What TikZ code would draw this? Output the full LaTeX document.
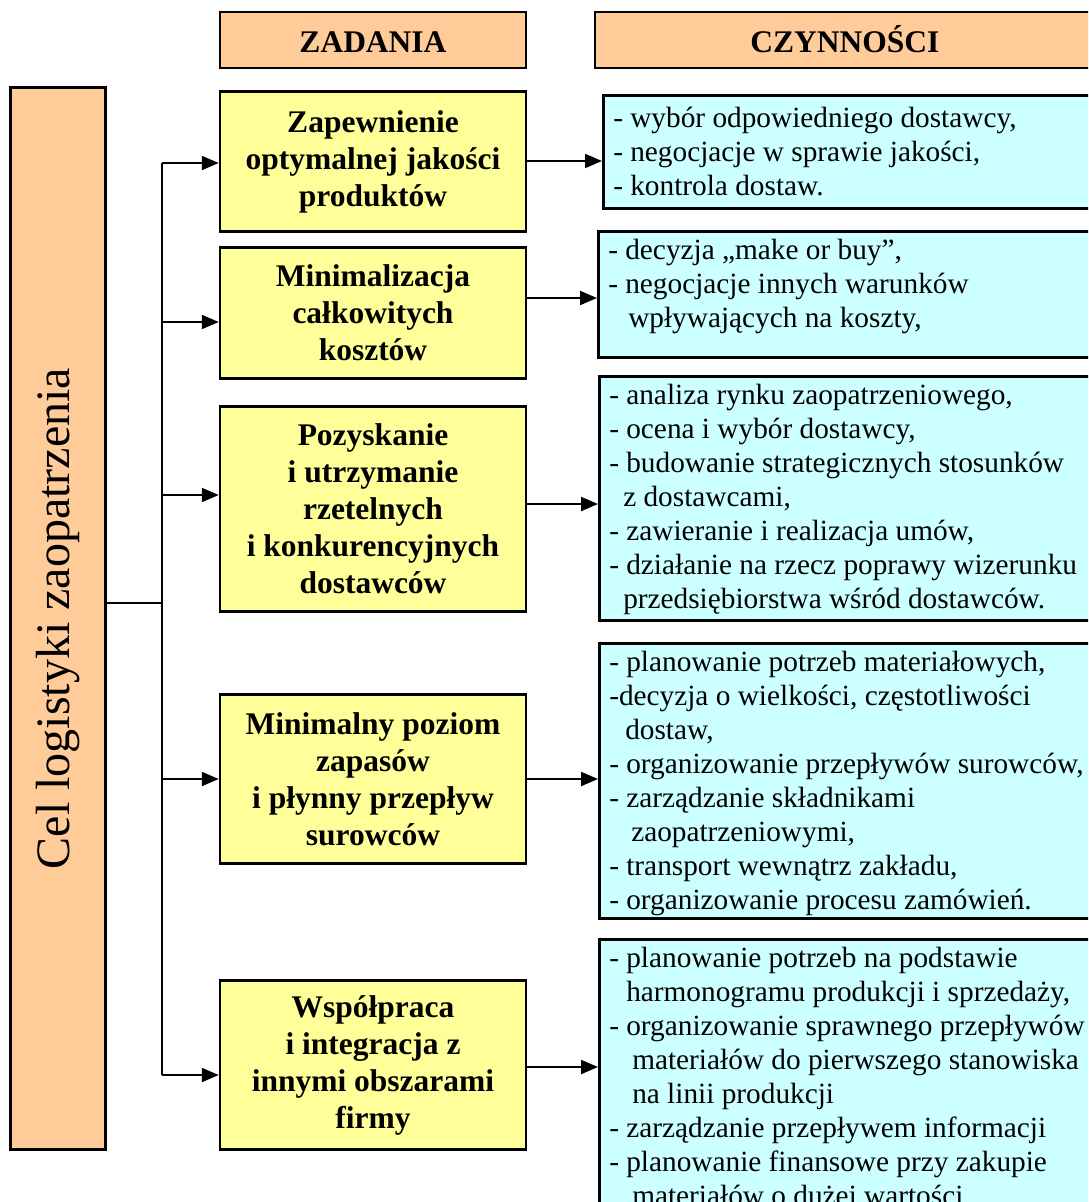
\documentclass[tikz,border=0pt]{standalone}
\usepackage{fontspec}
\setmainfont{Liberation Serif}
\usepackage{tikz}
\usetikzlibrary{arrows.meta}

\definecolor{orangebox}{HTML}{FFCC99}
\definecolor{yellowbox}{HTML}{FFFF99}
\definecolor{cyanbox}{HTML}{CCFFFF}

\newcommand{\actlines}[2]{\parbox[c][#1][t]{480pt}{\raggedright #2}}

\tikzset{
    head/.style={draw, line width=2.5pt, fill=orangebox, minimum height=56pt,
        text height=29pt, text depth=5pt,
        font=\fontsize{31.5}{34}\selectfont\bfseries},
    goal/.style={draw, line width=2.5pt, fill=orangebox, inner sep=0pt,
        font=\fontsize{48}{52}\selectfont},
    task/.style={draw, line width=2.5pt, fill=yellowbox, minimum width=306pt,
        align=center, font=\fontsize{31.5}{37}\selectfont\bfseries},
    act/.style={draw, line width=2.5pt, fill=cyanbox, anchor=north west,
        inner xsep=10pt, inner ysep=8pt, font=\fontsize{29.3}{34}\selectfont},
    link/.style={line width=2pt},
    arr/.style={line width=2pt, -{Triangle[length=17pt, width=14pt]}},
}

\begin{document}
\begin{tikzpicture}[x=1pt, y=-1pt]
    \useasboundingbox (0,0) rectangle (1088,1202);
    \clip (0,0) rectangle (1088,1202);

    % Draw the two column headers
    \node[head, minimum width=306pt] (zad) at (373,40) {ZADANIA};
    \node[head, minimum width=500pt] (czy) at (845,40) {CZYNNOŚCI};

    % Draw the goal on the left
    \node[goal, minimum width=95pt, minimum height=1062pt] (cel) at (58,618.5)
        {\rotatebox{90}{Cel logistyki zaopatrzenia}};

    % Draw the tasks
    \node[task, minimum height=140pt] (z1) at (373,161.5)
        {Zapewnienie\\optymalnej jakości\\produktów};
    \node[task, minimum height=131pt] (z2) at (373,313)
        {Minimalizacja\\całkowitych\\kosztów};
    \node[task, minimum height=205pt] (z3) at (373,509)
        {Pozyskanie\\i utrzymanie\\rzetelnych\\i konkurencyjnych\\dostawców};
    \node[task, minimum height=169pt] (z4) at (373,779)
        {Minimalny poziom\\zapasów\\i płynny przepływ\\surowców};
    \node[task, minimum height=169pt] (z5) at (373,1065)
        {Współpraca\\i integracja z\\innymi obszarami\\firmy};

    % Draw the activities
    \node[act, inner ysep=12pt] (c1) at (602,94) {\actlines{89pt}{%
        - wybór odpowiedniego dostawcy,\\
        - negocjacje w sprawie jakości,\\
        - kontrola dostaw.}};
    \node[act] (c2) at (597,230) {\actlines{110pt}{%
        - decyzja „make or buy”,\\
        - negocjacje innych warunków\\
        \hspace*{20pt}wpływających na koszty,}};
    \node[act] (c3) at (598,375) {\actlines{228pt}{%
        - analiza rynku zaopatrzeniowego,\\
        - ocena i wybór dostawcy,\\
        - budowanie strategicznych stosunków\\
        \hspace*{14pt}z dostawcami,\\
        - zawieranie i realizacja umów,\\
        - działanie na rzecz poprawy wizerunku\\
        \hspace*{14pt}przedsiębiorstwa wśród dostawców.}};
    \node[act] (c4) at (598,642) {\actlines{259pt}{%
        - planowanie potrzeb materiałowych,\\
        -decyzja o wielkości, częstotliwości\\
        \hspace*{16pt}dostaw,\\
        - organizowanie przepływów surowców,\\
        - zarządzanie składnikami\\
        \hspace*{22pt}zaopatrzeniowymi,\\
        - transport wewnątrz zakładu,\\
        - organizowanie procesu zamówień.}};
    \node[act] (c5) at (598,938) {\actlines{300pt}{%
        - planowanie potrzeb na podstawie\\
        \hspace*{17pt}harmonogramu produkcji i sprzedaży,\\
        - organizowanie sprawnego przepływów\\
        \hspace*{23pt}materiałów do pierwszego stanowiska\\
        \hspace*{23pt}na linii produkcji\\
        - zarządzanie przepływem informacji\\
        - planowanie finansowe przy zakupie\\
        \hspace*{23pt}materiałów o dużej wartości.}};

    % Draw the trunk from the goal
    \coordinate (t0) at (162,603);
    \foreach \i/\y in {1/163, 2/322, 3/495, 4/779, 5/1075}
        \coordinate (t\i) at (162,\y);
    \draw[link] (cel.east |- t0) -- (t0);
    \draw[link] (t1) -- (t5);

    % Arrows to the tasks and on to the activities
    \foreach \i in {1,...,5}
        \draw[arr] (t\i) -- (t\i -| z\i.west);
    \foreach \i/\y in {1/161, 2/298, 3/504, 4/779, 5/1067}
        \draw[arr] (z\i.east |- 0,\y) -- (c\i.west |- 0,\y);
\end{tikzpicture}
\end{document}
